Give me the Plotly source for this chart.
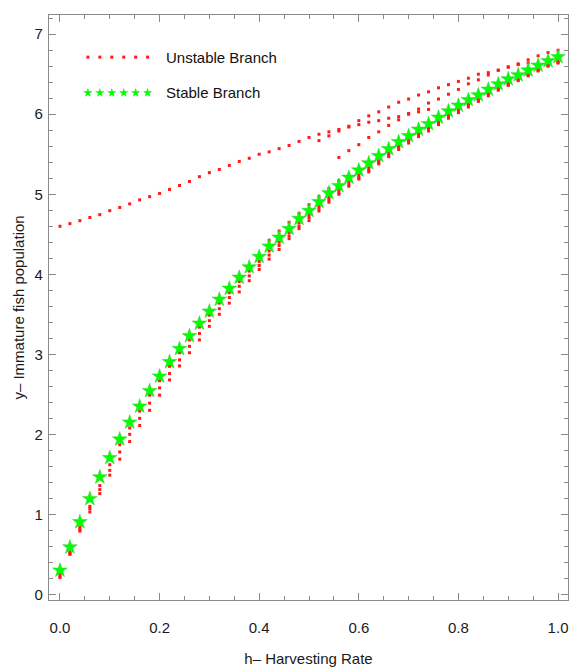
import plotly.graph_objects as go

# Harvesting rate grid (step 0.02)
h = [round(0.02 * i, 2) for i in range(51)]

# Stable equilibrium branch
stable_y = [0.30, 0.59, 0.905, 1.195, 1.465, 1.706, 1.939, 2.15, 2.35, 2.544,
            2.725, 2.905, 3.07, 3.23, 3.387, 3.537, 3.686, 3.823, 3.96, 4.09,
            4.22, 4.35, 4.46, 4.57, 4.695, 4.795, 4.906, 5.015, 5.106, 5.21,
            5.30, 5.39, 5.48, 5.567, 5.654, 5.73, 5.81, 5.88, 5.96, 6.04,
            6.11, 6.18, 6.24, 6.31, 6.376, 6.44, 6.49, 6.55, 6.61, 6.667, 6.717]

# Unstable equilibrium branch (upper curve)
unstable_upper = [4.60, 4.633, 4.67, 4.71, 4.745, 4.795, 4.835, 4.88, 4.93, 4.97,
                  5.01, 5.06, 5.11, 5.16, 5.22, 5.27, 5.31, 5.36, 5.41, 5.45,
                  5.50, 5.53, 5.57, 5.61, 5.66, 5.71, 5.75, 5.78, 5.81, 5.85,
                  5.92, 5.98, 6.03, 6.09, 6.15, 6.19, 6.24, 6.28, 6.33, 6.37,
                  6.41, 6.45, 6.50, 6.52, 6.55, 6.59, 6.63, 6.68, 6.73, 6.77, 6.80]

# Unstable solutions lying just under the stable branch
unstable_low1 = [0.26, 0.53, 0.84, 1.10, 1.36, 1.62, 1.87, 2.08, 2.29, 2.49,
                 2.67, 2.85, 3.02, 3.18, 3.34, 3.49, 3.64, 3.77, 3.91, 4.04,
                 4.16, 4.29, 4.40, 4.52, 4.64, 4.745, 4.85, 4.96, 5.05, 5.15,
                 5.24, 5.33, 5.42, 5.51, 5.60, 5.68, 5.76, 5.83, 5.91, 5.99,
                 6.06, 6.13, 6.19, 6.26, 6.33, 6.39, 6.44, 6.50, 6.56, 6.62, 6.66]
unstable_low2 = [0.23, 0.51, 0.81, 1.07, 1.31, 1.55, 1.78, 2.00, 2.20, 2.39,
                 2.58, 2.76, 2.93, 3.10, 3.26, 3.42, 3.57, 3.71, 3.85, 3.98,
                 4.11, 4.24, 4.36, 4.48, 4.60, 4.71, 4.82, 4.93, 5.02, 5.12,
                 5.21, 5.30, 5.40, 5.49, 5.58, 5.66, 5.74, 5.81, 5.89, 5.97,
                 6.04, 6.11, 6.17, 6.24, 6.31, 6.37, 6.43, 6.49, 6.55, 6.61, 6.65]
unstable_low3 = [0.21, 0.50, 0.79, 1.03, 1.26, 1.49, 1.69, 1.91, 2.11, 2.30,
                 2.49, 2.68, 2.855, 3.02, 3.18, 3.35, 3.50, 3.64, 3.78, 3.92,
                 4.06, 4.19, 4.31, 4.445, 4.57, 4.67, 4.79, 4.90, 5.00, 5.10,
                 5.19, 5.28, 5.38, 5.47, 5.56, 5.64, 5.72, 5.79, 5.87, 5.95,
                 6.02, 6.09, 6.16, 6.23, 6.30, 6.36, 6.42, 6.48, 6.54, 6.60, 6.64]

# Intermediate unstable solutions (shorter h ranges)
h_mid_b = [0.52, 0.54, 0.56, 0.58, 0.60, 0.62, 0.64, 0.66, 0.68, 0.70, 0.72, 0.74]
unstable_mid_b = [5.67, 5.73, 5.79, 5.84, 5.87, 5.90, 5.92, 5.95, 5.97, 6.01, 6.03, 6.06]

h_mid_c = [0.56, 0.58, 0.60, 0.62, 0.64, 0.66, 0.68, 0.70, 0.72, 0.74,
           0.76, 0.78, 0.80, 0.82, 0.84, 0.86, 0.88, 0.90, 0.92, 0.94]
unstable_mid_c = [5.46, 5.545, 5.62, 5.71, 5.78, 5.86, 5.93, 6.00, 6.065, 6.14,
                  6.19, 6.25, 6.31, 6.38, 6.43, 6.49, 6.55, 6.59, 6.62, 6.64]

h_mid_e = [0.42, 0.44, 0.46, 0.48, 0.50, 0.52, 0.54, 0.56]
unstable_mid_e = [4.425, 4.54, 4.65, 4.76, 4.87, 4.97, 5.07, 5.17]

RED = "#ff1a1a"
GREEN = "#00ff00"
FONT = "Liberation Sans, Arial, sans-serif"

fig = go.Figure()

red_sets = [
    (h, unstable_upper), (h, unstable_low1), (h, unstable_low2), (h, unstable_low3),
    (h_mid_b, unstable_mid_b), (h_mid_c, unstable_mid_c), (h_mid_e, unstable_mid_e),
]
for xs, ys in red_sets:
    fig.add_trace(go.Scatter(
        x=xs, y=ys, mode="markers", showlegend=False, hoverinfo="skip",
        marker=dict(symbol="square", size=3, color=RED, line=dict(width=0)),
    ))

fig.add_trace(go.Scatter(
    x=h, y=stable_y, mode="markers", showlegend=False,
    marker=dict(symbol="star", size=11, color=GREEN, line=dict(width=0.5, color="#33cc33")),
))

# Legend drawn on an auxiliary axis pair spanning the plot area (0..1)
legend_x = [0.075, 0.098, 0.121, 0.144, 0.167, 0.19]
fig.add_trace(go.Scatter(
    x=legend_x, y=[0.928] * len(legend_x), xaxis="x2", yaxis="y2",
    mode="markers", showlegend=False, hoverinfo="skip",
    marker=dict(symbol="square", size=3, color=RED),
))
fig.add_trace(go.Scatter(
    x=legend_x, y=[0.867] * len(legend_x), xaxis="x2", yaxis="y2",
    mode="markers", showlegend=False, hoverinfo="skip",
    marker=dict(symbol="star", size=7, color=GREEN),
))
legend_labels = [("Unstable Branch", 0.928), ("Stable Branch", 0.867)]
for label, ly in legend_labels:
    fig.add_annotation(x=0.221, y=ly, xref="x2", yref="y2", text=label,
                       showarrow=False, xanchor="left", yanchor="middle",
                       font=dict(family=FONT, size=15, color="#111111"))

axis_common = dict(
    showgrid=False, zeroline=False, showline=True, linecolor="#8a8a8a", linewidth=1.2,
    mirror="allticks", ticks="inside", tickcolor="#8a8a8a", tickwidth=1,
    tickfont=dict(family=FONT, size=15, color="#1a1a1a"),
)

fig.update_layout(
    width=572, height=669,
    margin=dict(l=49, r=4, t=15, b=69),
    paper_bgcolor="white", plot_bgcolor="white",
    xaxis=dict(
        range=[-0.022, 1.02], tickvals=[0, 0.2, 0.4, 0.6, 0.8, 1.0],
        ticktext=["0.0", "0.2", "0.4", "0.6", "0.8", "1.0"], ticklen=7,
        ticklabelstandoff=14,
        minor=dict(dtick=0.05, tick0=0, ticklen=4, ticks="inside", tickcolor="#8a8a8a"),
        title=dict(text="h\u2013 Harvesting Rate", font=dict(family=FONT, size=15, color="#1a1a1a"),
                   standoff=18),
        **axis_common,
    ),
    yaxis=dict(
        range=[-0.07, 7.24], tickvals=[0, 1, 2, 3, 4, 5, 6, 7], ticklen=7,
        ticklabelstandoff=2,
        minor=dict(dtick=0.2, tick0=0, ticklen=4, ticks="inside", tickcolor="#8a8a8a"),
        title=dict(text="y\u2013 Immature fish population", font=dict(family=FONT, size=15, color="#1a1a1a"),
                   standoff=6),
        **axis_common,
    ),
    xaxis2=dict(range=[0, 1], domain=[0, 1], overlaying="x", visible=False, fixedrange=True),
    yaxis2=dict(range=[0, 1], domain=[0, 1], overlaying="y", visible=False, fixedrange=True),
)

fig.write_html("out.html")
